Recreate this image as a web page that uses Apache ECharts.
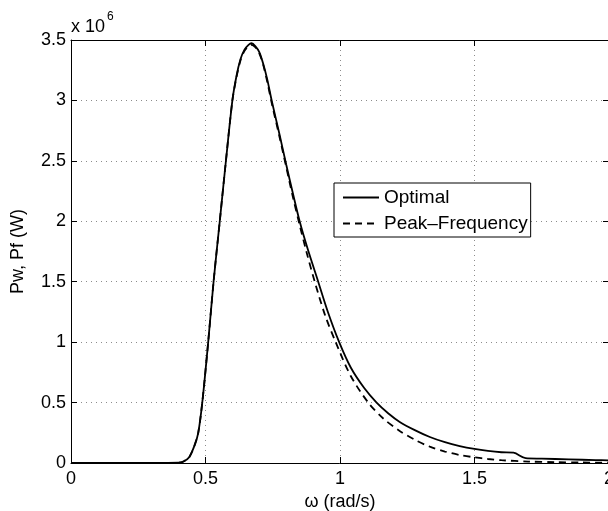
<!DOCTYPE html>
<html>
<head>
<meta charset="utf-8">
<script src="https://cdn.jsdelivr.net/npm/echarts@6/dist/echarts.min.js"></script>
<style>html,body{margin:0;padding:0;background:#fff;}#c{width:608px;height:511px;}</style>
</head>
<body>
<div id="c"></div>
<script>
// Data (power in units of 1e6 W)
const seriesNames = ['Optimal', 'Peak\u2013Frequency'];
const optimalX = [0, 0.30, 0.40, 0.42, 0.44, 0.46, 0.473, 0.488, 0.51, 0.53, 0.553, 0.575, 0.60, 0.615, 0.63, 0.645, 0.66, 0.671, 0.685, 0.70, 0.715, 0.73, 0.746, 0.775, 0.80, 0.825, 0.85, 0.88, 0.919, 0.955, 0.997, 1.04, 1.09, 1.136, 1.18, 1.222, 1.28, 1.334, 1.39, 1.445, 1.50, 1.55, 1.60, 1.645, 1.69, 1.75, 1.85, 1.95, 2.0];
const optimalY = [0, 0, 0.002, 0.015, 0.05, 0.15, 0.25, 0.5, 1.0, 1.5, 2.0, 2.48, 3.0, 3.2, 3.34, 3.42, 3.46, 3.473, 3.45, 3.40, 3.30, 3.17, 3.0, 2.72, 2.47, 2.23, 2.0, 1.77, 1.5, 1.25, 1.0, 0.79, 0.62, 0.5, 0.41, 0.34, 0.27, 0.215, 0.172, 0.14, 0.116, 0.10, 0.089, 0.085, 0.04, 0.036, 0.03, 0.024, 0.022];
const peakX = [0, 0.30, 0.40, 0.42, 0.44, 0.46, 0.473, 0.488, 0.51, 0.53, 0.553, 0.575, 0.60, 0.615, 0.63, 0.645, 0.66, 0.671, 0.685, 0.70, 0.715, 0.73, 0.746, 0.775, 0.80, 0.825, 0.85, 0.875, 0.906, 0.945, 0.984, 1.04, 1.105, 1.16, 1.222, 1.28, 1.334, 1.39, 1.445, 1.50, 1.55, 1.60, 1.70, 1.80, 1.90, 2.0];
const peakY = [0, 0, 0.002, 0.015, 0.05, 0.15, 0.25, 0.5, 1.0, 1.5, 2.0, 2.48, 3.0, 3.19, 3.33, 3.41, 3.45, 3.46, 3.44, 3.39, 3.29, 3.15, 2.98, 2.70, 2.45, 2.2, 1.97, 1.75, 1.5, 1.22, 1.0, 0.72, 0.5, 0.37, 0.265, 0.19, 0.135, 0.095, 0.066, 0.047, 0.033, 0.023, 0.012, 0.007, 0.004, 0.003];
const xTicks = {min: 0, max: 2, interval: 0.5};
const yTicks = {min: 0, max: 3.5, interval: 0.5};

const zip = (xs, ys) => xs.map((x, i) => [x, ys[i]]);
const FONT = 'Liberation Sans, Arial, Helvetica, sans-serif';
const chart = echarts.init(document.getElementById('c'), null, {renderer: 'canvas'});

const baseAxis = {
  type: 'value',
  axisLine: {show: true, onZero: false, lineStyle: {color: '#000', width: 1}},
  axisTick: {show: true, inside: true, length: 6, lineStyle: {color: '#000'}},
  axisLabel: {color: '#000', fontSize: 18, fontFamily: FONT},
  splitLine: {show: true, lineStyle: {color: '#8c8c8c', type: [1, 4], width: 1}}
};

chart.setOption({
  animation: false,
  backgroundColor: '#fff',
  textStyle: {fontFamily: FONT},
  grid: {left: 71, top: 40, width: 538, height: 423, containLabel: false, outerBoundsMode: 'none'},
  legend: {
    orient: 'vertical', left: 334, top: 183,
    data: seriesNames,
    itemWidth: 36, itemHeight: 14, itemGap: 7,
    padding: [5, 3, 4, 8],
    borderColor: '#000', borderWidth: 1, backgroundColor: '#fff',
    textStyle: {fontSize: 19, color: '#000', fontFamily: FONT},
    itemStyle: {opacity: 0}
  },
  xAxis: [
    Object.assign({}, baseAxis, xTicks, {
      position: 'bottom',
      name: '\u03c9 (rad/s)', nameLocation: 'middle', nameGap: 30,
      nameTextStyle: {fontSize: 18, color: '#000', fontFamily: FONT},
      axisLabel: {color: '#000', fontSize: 18, fontFamily: FONT, margin: 7}
    }),
    Object.assign({}, baseAxis, xTicks, {
      position: 'top', axisLabel: {show: false}, splitLine: {show: false}
    })
  ],
  yAxis: [
    Object.assign({}, baseAxis, yTicks, {
      position: 'left',
      name: 'Pw, Pf (W)', nameLocation: 'middle', nameGap: 44,
      nameTextStyle: {fontSize: 18, color: '#000', fontFamily: FONT},
      axisLabel: {color: '#000', fontSize: 18, fontFamily: FONT, margin: 5}
    }),
    Object.assign({}, baseAxis, yTicks, {
      position: 'right', axisLabel: {show: false}, splitLine: {show: false}
    })
  ],
  graphic: [
    {type: 'text', left: 71, top: 18, style: {text: 'x 10', fontSize: 18, fontFamily: FONT, fill: '#000'}},
    {type: 'text', left: 107, top: 11, style: {text: '6', fontSize: 12, fontFamily: FONT, fill: '#000'}}
  ],
  series: [
    {
      name: seriesNames[0], type: 'line', data: zip(optimalX, optimalY),
      showSymbol: false, symbol: 'none', smooth: 0.3,
      lineStyle: {color: '#000', width: 1.8, type: 'solid'}, itemStyle: {color: '#000'}
    },
    {
      name: seriesNames[1], type: 'line', data: zip(peakX, peakY),
      showSymbol: false, symbol: 'none', smooth: 0.3,
      lineStyle: {color: '#000', width: 1.8, type: [7, 5]}, itemStyle: {color: '#000'}
    }
  ]
});
</script>
</body>
</html>
